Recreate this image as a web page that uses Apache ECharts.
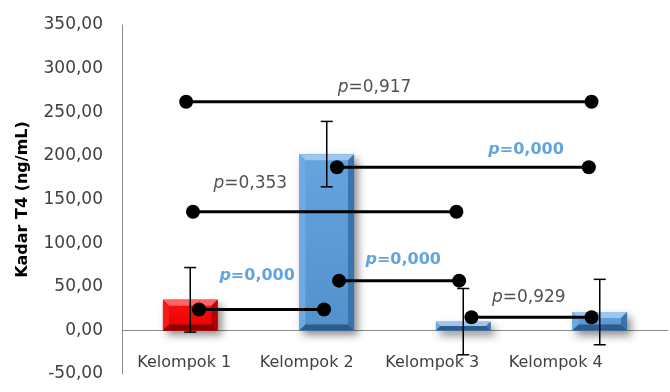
<!DOCTYPE html>
<html>
<head>
<meta charset="utf-8">
<script src="https://cdn.jsdelivr.net/npm/echarts@6/dist/echarts.min.js"></script>
<style>
  html, body { margin: 0; padding: 0; background: #ffffff; }
  #chart { width: 670px; height: 392px; }
</style>
</head>
<body>
<div id="chart"></div>
<script>
// Group means and standard deviations of T4 level (ng/mL)
const categories = ['Kelompok 1', 'Kelompok 2', 'Kelompok 3', 'Kelompok 4'];
const meanValues = [35, 202, 10, 21];
const sdValues = [37, 37.5, 38, 37.5];

// Value axis ticks
const yMin = -50;
const yMax = 350;
const yStep = 50;

// Pairwise comparisons: from/to are positions along the category band (0 = Kelompok 1)
const bracketFrom = [-0.03, 1.075, 0.02, 1.09, 0.064, 2.06];
const bracketTo = [2.94, 2.92, 1.95, 1.97, 0.98, 2.94];
const bracketLevel = [262, 187, 136, 57, 24, 15];
const pValues = ['0,917', '0,000', '0,353', '0,000', '0,000', '0,929'];
const pSignificant = [false, true, false, true, true, false];
const pLabelX = [1.35, 2.46, 0.44, 1.56, 0.49, 2.48];
const pLabelY = [278, 207, 168, 81, 62, 38];

// ---- styles ----
const FONT = 'DejaVu Sans';
const redFace = { main: ['#ff1010', '#e80000'], top: '#ff6464', left: '#f41c1c', right: '#b80000', bottom: '#8a0000' };
const blueFace = { main: ['#66a4de', '#5291cd'], top: '#9dc6ee', left: '#6eaae2', right: '#3b74ad', bottom: '#2d5b8b' };
const barFaces = [redFace, blueFace, blueFace, blueFace];
const labelShift = [12, 40, 62, 88];

const chart = echarts.init(document.getElementById('chart'), null, { renderer: 'canvas' });

function fmtComma(v) {
  return v.toFixed(2).replace('.', ',');
}

const xRich = {};
labelShift.forEach((s, i) => {
  xRich['c' + i] = { fontFamily: FONT, fontSize: 16, color: '#404040', padding: [0, s, 0, 0] };
});

function renderBevelBar(params, api) {
  const idx = api.value(0);
  const base = api.coord([idx, 0]);
  const top = api.coord([idx, api.value(1)]);
  const w = api.size([1, 0])[0] * 0.4;
  const x = base[0] - w / 2;
  const y = top[1];
  const h = base[1] - top[1];
  const b = Math.min(6, h / 2);
  const f = barFaces[params.dataIndex];
  return {
    type: 'group',
    children: [
      {
        type: 'rect',
        shape: { x: x, y: y, width: w, height: h },
        style: { fill: f.main[1], shadowBlur: 8, shadowOffsetX: 4, shadowOffsetY: 5, shadowColor: 'rgba(0,0,0,0.45)' }
      },
      {
        type: 'rect',
        shape: { x: x, y: y, width: w, height: h },
        style: {
          fill: new echarts.graphic.LinearGradient(0, 0, 0, 1, [
            { offset: 0, color: f.main[0] },
            { offset: 1, color: f.main[1] }
          ])
        }
      },
      { type: 'polygon', shape: { points: [[x, y], [x + w, y], [x + w - b, y + b], [x + b, y + b]] }, style: { fill: f.top } },
      { type: 'polygon', shape: { points: [[x, y], [x + b, y + b], [x + b, y + h - b], [x, y + h]] }, style: { fill: f.left } },
      { type: 'polygon', shape: { points: [[x + w, y], [x + w, y + h], [x + w - b, y + h - b], [x + w - b, y + b]] }, style: { fill: f.right } },
      { type: 'polygon', shape: { points: [[x, y + h], [x + b, y + h - b], [x + w - b, y + h - b], [x + w, y + h]] }, style: { fill: f.bottom } }
    ]
  };
}

function renderErrorBar(params, api) {
  const idx = api.value(0);
  const lo = api.coord([idx, api.value(1)]);
  const hi = api.coord([idx, api.value(2)]);
  const cap = 6;
  const st = { stroke: '#000', lineWidth: 1.5 };
  return {
    type: 'group',
    children: [
      { type: 'line', shape: { x1: hi[0], y1: hi[1], x2: lo[0], y2: lo[1] }, style: st },
      { type: 'line', shape: { x1: hi[0] - cap, y1: hi[1], x2: hi[0] + cap, y2: hi[1] }, style: st },
      { type: 'line', shape: { x1: lo[0] - cap, y1: lo[1], x2: lo[0] + cap, y2: lo[1] }, style: st }
    ]
  };
}

const bracketSeries = bracketFrom.map((from, i) => ({
  type: 'line',
  xAxisIndex: 1,
  data: [[from, bracketLevel[i]], [bracketTo[i], bracketLevel[i]]],
  symbol: 'circle',
  symbolSize: 14,
  showSymbol: true,
  itemStyle: { color: '#000' },
  lineStyle: { color: '#000', width: 3 },
  z: 5,
  silent: true
}));

const pLabelSeries = {
  type: 'scatter',
  xAxisIndex: 1,
  symbolSize: 0,
  z: 6,
  silent: true,
  data: pLabelX.map((x, i) => ({
    value: [x, pLabelY[i]],
    label: {
      show: true,
      position: 'inside',
      formatter: (pSignificant[i] ? '{bp|p}{bt|=' : '{np|p}{nt|=') + pValues[i] + '}',
      rich: {
        np: { fontFamily: FONT, fontSize: 17, fontStyle: 'italic', color: '#262626' },
        nt: { fontFamily: FONT, fontSize: 17, color: '#262626' },
        bp: { fontFamily: FONT, fontSize: 16, fontStyle: 'italic', fontWeight: 'bold', color: '#3b8fd6' },
        bt: { fontFamily: FONT, fontSize: 16, fontWeight: 'bold', color: '#3b8fd6' }
      }
    }
  }))
};

const option = {
  animation: false,
  backgroundColor: '#ffffff',
  grid: { left: 122, right: 2, top: 25, bottom: 18, containLabel: false, outerBoundsMode: 'none' },
  xAxis: [
    {
      type: 'category',
      data: categories,
      axisLine: { show: true, onZero: true, lineStyle: { color: '#8c8c8c', width: 1 } },
      axisTick: { show: false },
      splitLine: { show: false },
      axisLabel: {
        margin: -19,
        formatter: (v, i) => '{c' + i + '|' + v + '}',
        rich: xRich
      }
    },
    {
      type: 'value',
      min: -0.5,
      max: 3.5,
      show: false
    }
  ],
  yAxis: {
    type: 'value',
    min: yMin,
    max: yMax,
    interval: yStep,
    name: 'Kadar T4 (ng/mL)',
    nameLocation: 'middle',
    nameGap: 91,
    nameTextStyle: { fontFamily: FONT, fontSize: 16, fontWeight: 'bold', color: '#000' },
    axisLine: { show: true, onZero: false, lineStyle: { color: '#8c8c8c', width: 1 } },
    axisTick: { show: false },
    splitLine: { show: false },
    axisLabel: {
      margin: 19,
      fontFamily: FONT,
      fontSize: 17,
      color: '#404040',
      formatter: fmtComma
    }
  },
  series: [
    {
      type: 'custom',
      xAxisIndex: 0,
      renderItem: renderBevelBar,
      data: meanValues.map((v, i) => [i, v]),
      z: 2,
      silent: true
    },
    {
      type: 'custom',
      xAxisIndex: 0,
      renderItem: renderErrorBar,
      data: meanValues.map((v, i) => [i, v - sdValues[i], v + sdValues[i]]),
      z: 3,
      silent: true
    },
    ...bracketSeries,
    pLabelSeries
  ]
};

chart.setOption(option);
</script>
</body>
</html>
